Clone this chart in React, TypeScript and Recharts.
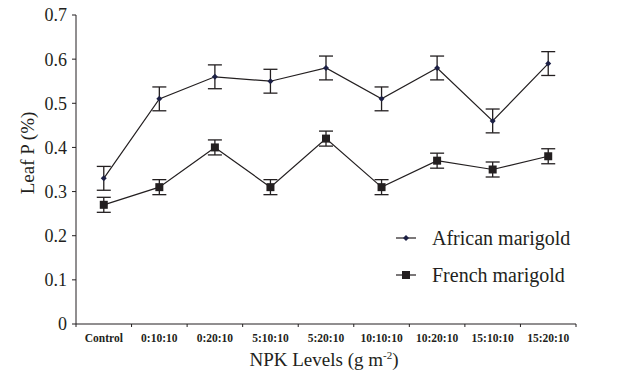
import React from 'react';
import { LineChart, Line, XAxis, YAxis, ErrorBar } from 'recharts';

const categories = ['Control', '0:10:10', '0:20:10', '5:10:10', '5:20:10', '10:10:10', '10:20:10', '15:10:10', '15:20:10'];
const african = [0.33, 0.51, 0.56, 0.55, 0.58, 0.51, 0.58, 0.46, 0.59];
const africanErr = [0.027, 0.027, 0.027, 0.027, 0.027, 0.027, 0.027, 0.027, 0.027];
const french = [0.27, 0.31, 0.40, 0.31, 0.42, 0.31, 0.37, 0.35, 0.38];
const frenchErr = [0.017, 0.017, 0.017, 0.017, 0.017, 0.017, 0.017, 0.017, 0.017];
const yTicks = [0, 0.1, 0.2, 0.3, 0.4, 0.5, 0.6, 0.7];

const data = categories.map((c, i) => ({
  name: c,
  african: african[i],
  africanErr: africanErr[i],
  french: french[i],
  frenchErr: frenchErr[i],
}));

const INK = '#231f20';
const FONT = '"Liberation Serif", "Times New Roman", serif';
const CHART_W = 622;
const MARGIN_RIGHT = 46;
const Y_W = 76;
const PLOT_W = CHART_W - MARGIN_RIGHT - Y_W;
const HALF_BAND = PLOT_W / categories.length / 2;

const Diamond = (props: any) => {
  const { cx, cy } = props;
  if (cx == null || cy == null) return null;
  const r = 3;
  return <path d={`M${cx},${cy - r}L${cx + r},${cy}L${cx},${cy + r}L${cx - r},${cy}Z`} fill="#1c2045" stroke="none" />;
};

const Square = (props: any) => {
  const { cx, cy } = props;
  if (cx == null || cy == null) return null;
  const s = 8;
  return <rect x={cx - s / 2} y={cy - s / 2} width={s} height={s} fill={INK} stroke="none" />;
};

const XTick = (props: any) => {
  const { x, y, payload, index } = props;
  const last = index === categories.length - 1;
  return (
    <g>
      <line x1={x - HALF_BAND} x2={x - HALF_BAND} y1={y} y2={y + 3} stroke={INK} strokeWidth={1} />
      {last && <line x1={x + HALF_BAND} x2={x + HALF_BAND} y1={y} y2={y + 3} stroke={INK} strokeWidth={1} />}
      <text x={x} y={y + 14} textAnchor="middle" dominantBaseline="central" fontFamily={FONT} fontSize={11.5}
        fontWeight="bold" fill={INK}>{payload.value}</text>
    </g>
  );
};

const YLabel = () => (
  <text x={27} y={153} transform="rotate(-90, 27, 153)" textAnchor="middle" dominantBaseline="central"
    fontFamily={FONT} fontSize={19} fill={INK}>Leaf P (%)</text>
);

const XLabel = () => (
  <text x={324} y={366} textAnchor="middle" fontFamily={FONT} fontSize={19} fill={INK}>
    NPK Levels (g m<tspan dy={-7} fontSize={11}>-2</tspan><tspan dy={7}>)</tspan>
  </text>
);

export default function App() {
  return (
    <div style={{ position: 'absolute', left: 0, top: 0, width: 622, height: 381, background: '#fff' }}>
      <LineChart width={CHART_W} height={381} data={data} margin={{ top: 15, right: MARGIN_RIGHT, bottom: 0, left: 0 }}>
        <XAxis dataKey="name" height={57} stroke={INK} tickLine={false} tickSize={0} tickMargin={0}
          padding={{ left: HALF_BAND, right: HALF_BAND }}
          tick={<XTick />} interval={0} label={<XLabel />} />
        <YAxis width={Y_W} domain={[0, 0.7]} ticks={yTicks} stroke={INK} tickSize={4} tickMargin={5}
          tick={{ fontFamily: FONT, fontSize: 18, fill: INK }} tickFormatter={(v: number) => String(v)}
          label={<YLabel />} />
        <Line dataKey="african" stroke={INK} strokeWidth={1.2} dot={<Diamond />} isAnimationActive={false}>
          <ErrorBar dataKey="africanErr" width={7} stroke={INK} strokeWidth={1.3} />
        </Line>
        <Line dataKey="french" stroke={INK} strokeWidth={1.2} dot={<Square />} isAnimationActive={false}>
          <ErrorBar dataKey="frenchErr" width={7} stroke={INK} strokeWidth={1.3} />
        </Line>
      </LineChart>
      <svg style={{ position: 'absolute', left: 0, top: 0 }} width={622} height={381} pointerEvents="none">
        <line x1={396} x2={416} y1={238} y2={238} stroke={INK} strokeWidth={1.2} />
        <Diamond cx={406} cy={238} />
        <text x={432} y={238} dominantBaseline="central" fontFamily={FONT} fontSize={20} fill={INK}>African marigold</text>
        <line x1={396} x2={416} y1={275} y2={275} stroke={INK} strokeWidth={1.2} />
        <Square cx={406} cy={275} />
        <text x={432} y={275} dominantBaseline="central" fontFamily={FONT} fontSize={20} fill={INK}>French marigold</text>
      </svg>
    </div>
  );
}
